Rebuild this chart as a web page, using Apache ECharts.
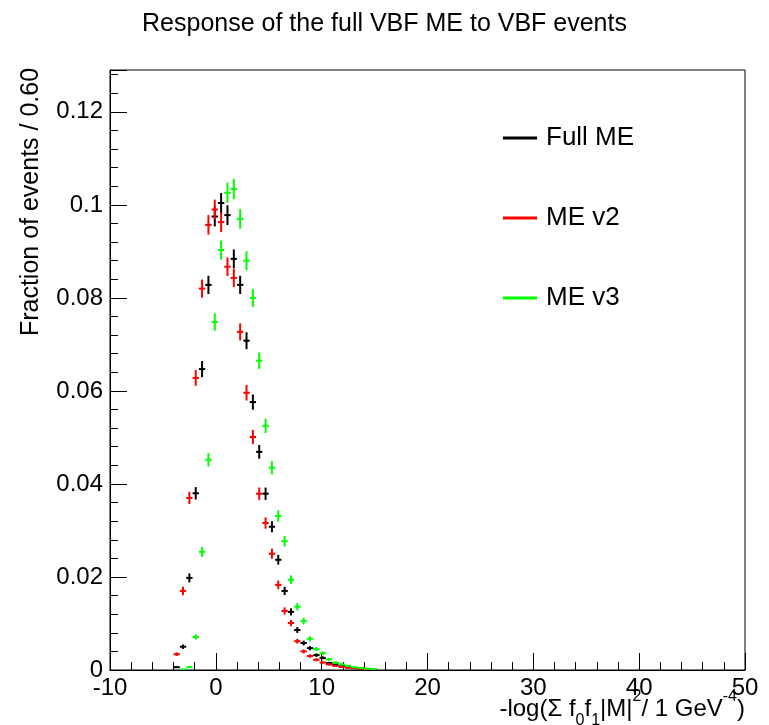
<!DOCTYPE html>
<html>
<head>
<meta charset="utf-8">
<script src="https://cdn.jsdelivr.net/npm/echarts@6/dist/echarts.min.js"></script>
<style>
  html, body { margin: 0; padding: 0; background: #fff; }
  #chart { width: 769px; height: 725px; }
</style>
</head>
<body>
<div id="chart"></div>
<script>
// bin width of the histograms (x units)
const binWidth = 0.6;
// effective number of events, used for the statistical error bars
const nEvents = 21600;

const binCenters = [-3.7, -3.1, -2.5, -1.9, -1.3, -0.7, -0.1, 0.5, 1.1, 1.7, 2.3, 2.9, 3.5, 4.1, 4.7, 5.3,
  5.9, 6.5, 7.1, 7.7, 8.3, 8.9, 9.5, 10.1, 10.7, 11.3, 11.9, 12.5, 13.1, 13.7, 14.3, 14.9];

const fullME = [0.0006, 0.0050, 0.0198, 0.0380, 0.0647, 0.0828, 0.0975, 0.1004, 0.0978, 0.0884, 0.0828,
  0.0708, 0.0576, 0.0469, 0.0379, 0.0308, 0.0237, 0.0170, 0.0125, 0.0086, 0.0058, 0.0047, 0.0032, 0.0026,
  0.0015, 0.0012, 0.0008, 0.0006, 0.0004, 0.0003, 0.0002, 0.0001];

const meV2 = [0.0034, 0.0170, 0.0370, 0.0628, 0.0820, 0.0957, 0.0990, 0.0963, 0.0867, 0.0843, 0.0727,
  0.0596, 0.0501, 0.0379, 0.0316, 0.0250, 0.0183, 0.0127, 0.0101, 0.0062, 0.0040, 0.0030, 0.0022, 0.0016,
  0.0012, 0.0009, 0.0007, 0.0005, 0.0004, 0.0003, 0.0002, 0.0001];

const meV3 = [0, 0.0001, 0.0006, 0.0071, 0.0254, 0.0452, 0.0748, 0.0903, 0.1026, 0.1034, 0.0970,
  0.0880, 0.0800, 0.0665, 0.0525, 0.0435, 0.0331, 0.0277, 0.0194, 0.0136, 0.0105, 0.0067, 0.0045, 0.0036,
  0.0023, 0.0016, 0.0012, 0.0009, 0.0006, 0.0004, 0.0003, 0.0002];

const yTicks = [0, 0.02, 0.04, 0.06, 0.08, 0.1, 0.12];

const font = '"Liberation Sans", Arial, Helvetica, sans-serif';

const chart = echarts.init(document.getElementById('chart'), null, { renderer: 'canvas' });

// ROOT style error cross: horizontal bar = bin width, vertical bar = stat. error
function crossSeries(name, values, color) {
  return {
    name: name,
    type: 'custom',
    itemStyle: { color: color },
    clip: true,
    data: binCenters.map((x, i) => [x, values[i]]).filter(d => d[1] > 0),
    encode: { x: 0, y: 1 },
    renderItem: (params, api) => {
      const x = api.value(0);
      const y = api.value(1);
      const err = Math.sqrt(y / nEvents);
      const c = api.coord([x, y]);
      const l = api.coord([x - binWidth / 2, y]);
      const r = api.coord([x + binWidth / 2, y]);
      const lo = api.coord([x, Math.max(0, y - err)]);
      const hi = api.coord([x, y + err]);
      const style = { stroke: color, lineWidth: 2 };
      return {
        type: 'group',
        children: [
          { type: 'line', shape: { x1: l[0], y1: c[1], x2: r[0], y2: c[1] }, style: style },
          { type: 'line', shape: { x1: c[0], y1: lo[1], x2: c[0], y2: hi[1] }, style: style }
        ]
      };
    }
  };
}

const option = {
  backgroundColor: '#fff',
  animation: false,
  title: {
    text: 'Response of the full VBF ME to VBF events',
    left: 'center',
    top: 7,
    textStyle: { fontFamily: font, fontSize: 25, fontWeight: 'normal', color: '#000' }
  },
  legend: {
    orient: 'vertical',
    left: 498,
    top: 120,
    icon: 'rect',
    itemWidth: 34,
    itemHeight: 3,
    itemGap: 54,
    textStyle: { fontFamily: font, fontSize: 26, color: '#000', padding: [0, 0, 0, 4] },
    data: ['Full ME', 'ME v2', 'ME v3']
  },
  grid: {
    left: 110, right: 24, top: 70, bottom: 55,
    outerBoundsMode: 'none',
    show: true, borderColor: '#000', borderWidth: 1, backgroundColor: '#fff'
  },
  xAxis: {
    type: 'value',
    min: -10, max: 50, interval: 10,
    axisLine: { onZero: false, lineStyle: { color: '#000', width: 1 } },
    axisTick: { inside: true, length: 17, lineStyle: { color: '#000' } },
    minorTick: { show: true, splitNumber: 5, length: 8, lineStyle: { color: '#000' } },
    splitLine: { show: false },
    axisLabel: { fontFamily: font, fontSize: 24, color: '#000', margin: 6 },
    name: '{a|-log(Σ f}{s|0}{a|f}{s|1}{a||M|}{p|2}{a|/ 1 GeV}{p|-4}{a|)}',
    nameLocation: 'end',
    nameGap: 0,
    nameMoveOverlap: false,
    nameTextStyle: {
      align: 'right', verticalAlign: 'top', padding: [19, 0, 0, 0],
      rich: {
        a: { fontFamily: font, fontSize: 24, color: '#000', lineHeight: 40, verticalAlign: 'middle' },
        s: { fontFamily: font, fontSize: 16, color: '#000', lineHeight: 24, verticalAlign: 'bottom' },
        p: { fontFamily: font, fontSize: 16, color: '#000', lineHeight: 12, verticalAlign: 'top' }
      }
    }
  },
  yAxis: {
    type: 'value',
    min: 0, max: 0.129, interval: 0.02,
    axisLine: { onZero: false, lineStyle: { color: '#000', width: 1 } },
    axisTick: { inside: true, length: 17, lineStyle: { color: '#000' } },
    minorTick: { show: true, splitNumber: 5, length: 8, lineStyle: { color: '#000' } },
    splitLine: { show: false },
    axisLabel: {
      fontFamily: font, fontSize: 24, color: '#000', margin: 7,
      formatter: v => {
        const t = yTicks.find(k => Math.abs(k - v) < 1e-9);
        return t === undefined ? '' : String(t);
      }
    },
    name: 'Fraction of events / 0.60',
    nameLocation: 'middle',
    nameRotate: 90,
    nameGap: 66,
    nameMoveOverlap: false,
    nameTextStyle: { fontFamily: font, fontSize: 25, color: '#000', padding: [0, 0, 0, 336] }
  },
  series: [
    crossSeries('Full ME', fullME, '#000000'),
    crossSeries('ME v2', meV2, '#ff0000'),
    crossSeries('ME v3', meV3, '#00ff00')
  ]
};

chart.setOption(option);
</script>
</body>
</html>
